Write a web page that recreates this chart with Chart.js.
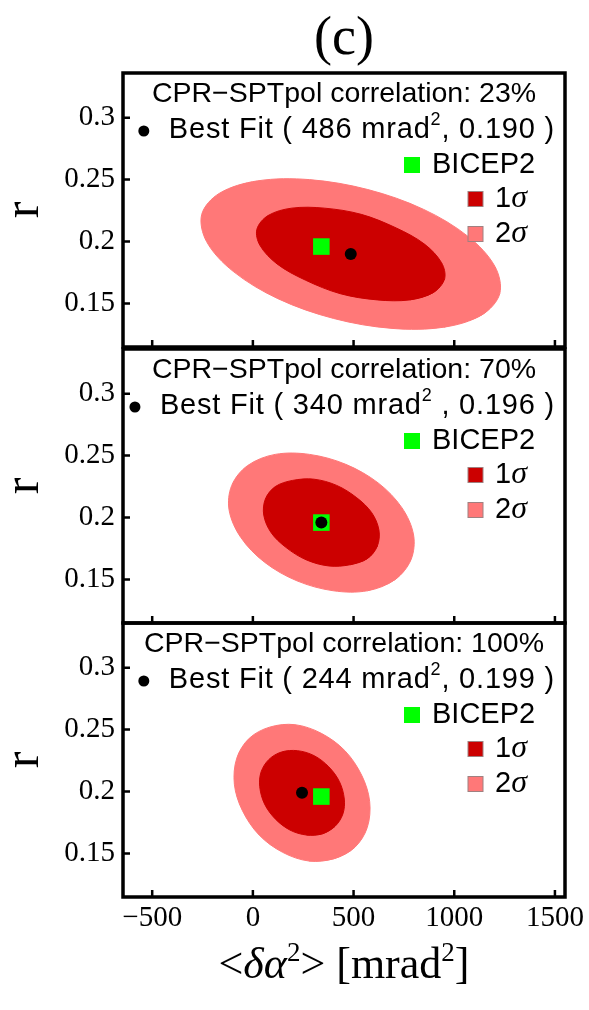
<!DOCTYPE html>
<html>
<head>
<meta charset="utf-8">
<script src="https://cdn.jsdelivr.net/npm/chart.js@4/dist/chart.umd.min.js"></script>
<style>
  body { margin: 0; background: #fff; }
  #wrap { position: relative; width: 589px; height: 1010px; }
  #wrap canvas { position: absolute; left: 0; }
</style>
</head>
<body>
<div id="wrap">
  <canvas id="panel23" width="589" height="360" style="top:0px"></canvas>
  <canvas id="panel70" width="589" height="300" style="top:336px"></canvas>
  <canvas id="panel100" width="589" height="400" style="top:610px"></canvas>
</div>
<script>
var correlations = ["23%", "70%", "100%"];
var bestFitX = [486, 340, 244];
var bestFitY = [0.190, 0.196, 0.199];
var bestFitSep = [", ", " , ", ", "];
var bicepX = 340;
var bicepY = 0.196;

var xTicks = [-500, 0, 500, 1000, 1500];
var yTicks = [0.15, 0.2, 0.25, 0.3];

// contour outlines, [<dalpha^2> mrad^2, r]
var outer23 = [[1226,0.158],[1138,0.141],[949,0.131],[691,0.130],[401,0.138],[124,0.154],[-98,0.176],[-230,0.200],[-254,0.222],[-166,0.239],[23,0.249],[281,0.250],[571,0.242],[848,0.226],[1070,0.204],[1202,0.180]];
var inner23 = [[952,0.170],[897,0.159],[779,0.153],[617,0.153],[434,0.158],[260,0.169],[120,0.182],[35,0.197],[20,0.210],[75,0.221],[193,0.227],[355,0.227],[538,0.222],[712,0.211],[852,0.198],[937,0.183]];

var outer70 = [[785,0.166],[706,0.150],[569,0.141],[399,0.141],[219,0.149],[58,0.164],[-60,0.184],[-118,0.206],[-105,0.226],[-26,0.242],[111,0.251],[281,0.251],[461,0.243],[622,0.228],[740,0.208],[798,0.186]];
var inner70 = [[618,0.177],[569,0.167],[483,0.162],[377,0.161],[264,0.166],[164,0.176],[90,0.188],[54,0.202],[62,0.215],[111,0.225],[197,0.230],[303,0.231],[416,0.226],[516,0.216],[590,0.204],[626,0.190]];

var outer100 = [[506,0.155],[405,0.146],[279,0.144],[148,0.151],[31,0.165],[-53,0.185],[-92,0.206],[-80,0.227],[-18,0.243],[83,0.252],[209,0.254],[340,0.247],[457,0.233],[541,0.213],[580,0.192],[568,0.171]];
var inner100 = [[408,0.172],[345,0.166],[266,0.165],[184,0.169],[111,0.178],[58,0.190],[34,0.204],[41,0.216],[80,0.226],[143,0.232],[222,0.233],[304,0.229],[377,0.220],[430,0.208],[454,0.194],[447,0.182]];

var outers = [outer23, outer70, outer100];
var inners = [inner23, inner70, inner100];

var darkRed = "#CC0000";
var lightRed = "#FF7878";
var green = "#00FF00";
var serif = '"Liberation Serif", "Times New Roman", serif';
var sans = '"Liberation Sans", Arial, sans-serif';

// repeat the first points so the smoothed outline closes without a kink
function closed(pts) {
  return pts.concat(pts.slice(0, 3)).map(function(p) { return {x: p[0], y: p[1]}; });
}

// draws a list of text pieces, each with its own font and vertical shift
function drawPieces(ctx, pieces, x, y) {
  pieces.forEach(function(p) {
    ctx.font = p.font;
    ctx.fillText(p.text, x, y + (p.dy || 0));
    x += ctx.measureText(p.text).width;
  });
}
function piecesWidth(ctx, pieces) {
  var w = 0;
  pieces.forEach(function(p) { ctx.font = p.font; w += ctx.measureText(p.text).width; });
  return w;
}

// frame round the plot with inward ticks on the left and bottom
var framePlugin = {
  id: 'frame',
  afterDatasetsDraw: function(chart) {
    var ctx = chart.ctx, a = chart.chartArea;
    var xs = chart.scales.x, ys = chart.scales.y;
    ctx.save();
    ctx.strokeStyle = "#000";
    ctx.lineWidth = 2.5;
    ctx.beginPath();
    xTicks.forEach(function(v) {
      var px = xs.getPixelForValue(v);
      ctx.moveTo(px, a.bottom);
      ctx.lineTo(px, a.bottom - 7);
    });
    yTicks.forEach(function(v) {
      var py = ys.getPixelForValue(v);
      ctx.moveTo(a.left, py);
      ctx.lineTo(a.left + 7, py);
    });
    ctx.stroke();
    ctx.lineWidth = 3.5;
    ctx.strokeRect(a.left, a.top, a.right - a.left, a.bottom - a.top);
    ctx.restore();
  }
};

// legend block inside each panel
var panelLegend = {
  id: 'panelLegend',
  afterDraw: function(chart, args, opts) {
    var ctx = chart.ctx, a = chart.chartArea;
    var ds = chart.data.datasets;
    var k = opts.k;
    var main = '29px ' + sans;
    var sup = '18px ' + sans;
    ctx.save();
    ctx.fillStyle = "#000";
    ctx.textBaseline = 'middle';

    ctx.font = '28.5px ' + sans;
    ctx.textAlign = 'center';
    ctx.fillText("CPR\u2212SPTpol correlation: " + correlations[k], (a.left + a.right) / 2, a.top + 21);

    ctx.textAlign = 'left';
    ctx.letterSpacing = '0.8px';
    var bf = [
      {text: ds[0].label + " ( " + bestFitX[k] + " mrad", font: main},
      {text: "2", font: sup, dy: -10},
      {text: bestFitSep[k] + bestFitY[k].toFixed(3) + " )", font: main}
    ];
    var bx = a.right - 10 - piecesWidth(ctx, bf);
    drawPieces(ctx, bf, bx, a.top + 57);
    ctx.letterSpacing = '0px';
    ctx.beginPath();
    ctx.arc(bx - 25, a.top + 58, 5.5, 0, Math.PI * 2);
    ctx.fill();

    // BICEP2
    ctx.fillStyle = green;
    ctx.fillRect(a.left + 281, a.top + 84, 16, 16);
    ctx.fillStyle = "#000";
    ctx.font = main;
    ctx.fillText(ds[1].label, a.left + 309, a.top + 92);

    // 1 sigma and 2 sigma swatches
    [[2, 126], [3, 161]].forEach(function(row) {
      var d = ds[row[0]];
      ctx.fillStyle = d.backgroundColor;
      ctx.strokeStyle = "#A08080";
      ctx.lineWidth = 1;
      ctx.fillRect(a.left + 345, a.top + row[1] - 7.5, 15, 15);
      ctx.strokeRect(a.left + 345, a.top + row[1] - 7.5, 15, 15);
      ctx.fillStyle = "#000";
      drawPieces(ctx, [
        {text: d.label.charAt(0), font: '29px ' + sans},
        {text: d.label.slice(1), font: 'italic 32px ' + serif}
      ], a.left + 372, a.top + row[1]);
    });
    ctx.restore();
  }
};

// x axis label under the last panel
var xTitlePlugin = {
  id: 'xTitle',
  afterDraw: function(chart, args, opts) {
    if (!opts.show) return;
    var ctx = chart.ctx, a = chart.chartArea;
    var big = '44px ' + serif, ital = 'italic 44px ' + serif, small = '27px ' + serif;
    var parts = [
      {text: "<", font: big},
      {text: "\u03B4\u03B1", font: ital},
      {text: "2", font: small, dy: -17},
      {text: "> [mrad", font: big},
      {text: "2", font: small, dy: -17},
      {text: "]", font: big}
    ];
    ctx.save();
    ctx.fillStyle = "#000";
    ctx.textBaseline = 'alphabetic';
    ctx.textAlign = 'left';
    var w = piecesWidth(ctx, parts);
    drawPieces(ctx, parts, (a.left + a.right) / 2 - w / 2, a.bottom + 81);
    ctx.restore();
  }
};

function contour(label, pts, color, order) {
  return {
    label: label,
    data: closed(pts),
    showLine: true,
    fill: 'shape',
    tension: 0.34,
    pointRadius: 0,
    pointHoverRadius: 0,
    backgroundColor: color,
    borderColor: color,
    borderWidth: 1,
    order: order
  };
}

function makePanel(id, k) {
  var first = k === 0, last = k === 2;
  return new Chart(id, {
    type: 'scatter',
    data: {
      datasets: [{
        label: "Best Fit",
        data: [{x: bestFitX[k], y: bestFitY[k]}],
        pointRadius: 6,
        backgroundColor: "#000",
        borderColor: "#000",
        borderWidth: 0,
        order: 0
      }, {
        label: "BICEP2",
        data: [{x: bicepX, y: bicepY}],
        pointStyle: 'rect',
        pointRadius: 11.7,
        backgroundColor: green,
        borderColor: green,
        borderWidth: 0,
        order: 1
      },
        contour("1\u03C3", inners[k], darkRed, 2),
        contour("2\u03C3", outers[k], lightRed, 3)
      ]
    },
    options: {
      responsive: false,
      animation: false,
      events: [],
      layout: {
        padding: {left: 0, right: 24, top: first ? 0 : 13, bottom: last ? 0 : 13}
      },
      scales: {
        x: {
          type: 'linear',
          min: -645,
          max: 1550,
          afterBuildTicks: function(s) { s.ticks = xTicks.map(function(v) { return {value: v}; }); },
          afterFit: function(s) {
            s.height = last ? 113 : 0;
            s.paddingLeft = 0;
            s.paddingRight = 0;
          },
          grid: {display: false, drawTicks: false},
          border: {display: false},
          ticks: {
            display: last,
            padding: 4,
            color: "#000",
            font: {family: serif, size: 29},
            callback: function(v) { return String(v).replace('-', '\u2212'); }
          }
        },
        y: {
          min: 0.115,
          max: 0.336,
          afterBuildTicks: function(s) { s.ticks = yTicks.map(function(v) { return {value: v}; }); },
          afterFit: function(s) {
            s.width = 123;
            s.paddingTop = 0;
            s.paddingBottom = 0;
          },
          grid: {display: false, drawTicks: false},
          border: {display: false},
          ticks: {
            padding: 8,
            color: "#000",
            font: {family: serif, size: 29},
            callback: function(v) { return String(v); }
          },
          title: {
            display: true,
            text: "r",
            color: "#000",
            padding: {top: 0, bottom: 0},
            font: {family: serif, size: 50, lineHeight: 1}
          }
        }
      },
      plugins: {
        legend: {display: false},
        tooltip: {enabled: false},
        title: {
          display: first,
          text: "(c)",
          fullSize: false,
          color: "#000",
          padding: {top: 13, bottom: 6},
          font: {family: serif, size: 54, weight: 'normal', lineHeight: 1}
        },
        panelLegend: {k: k},
        xTitle: {show: last}
      }
    },
    plugins: [framePlugin, panelLegend, xTitlePlugin]
  });
}

makePanel("panel23", 0);
makePanel("panel70", 1);
makePanel("panel100", 2);
</script>
</body>
</html>
